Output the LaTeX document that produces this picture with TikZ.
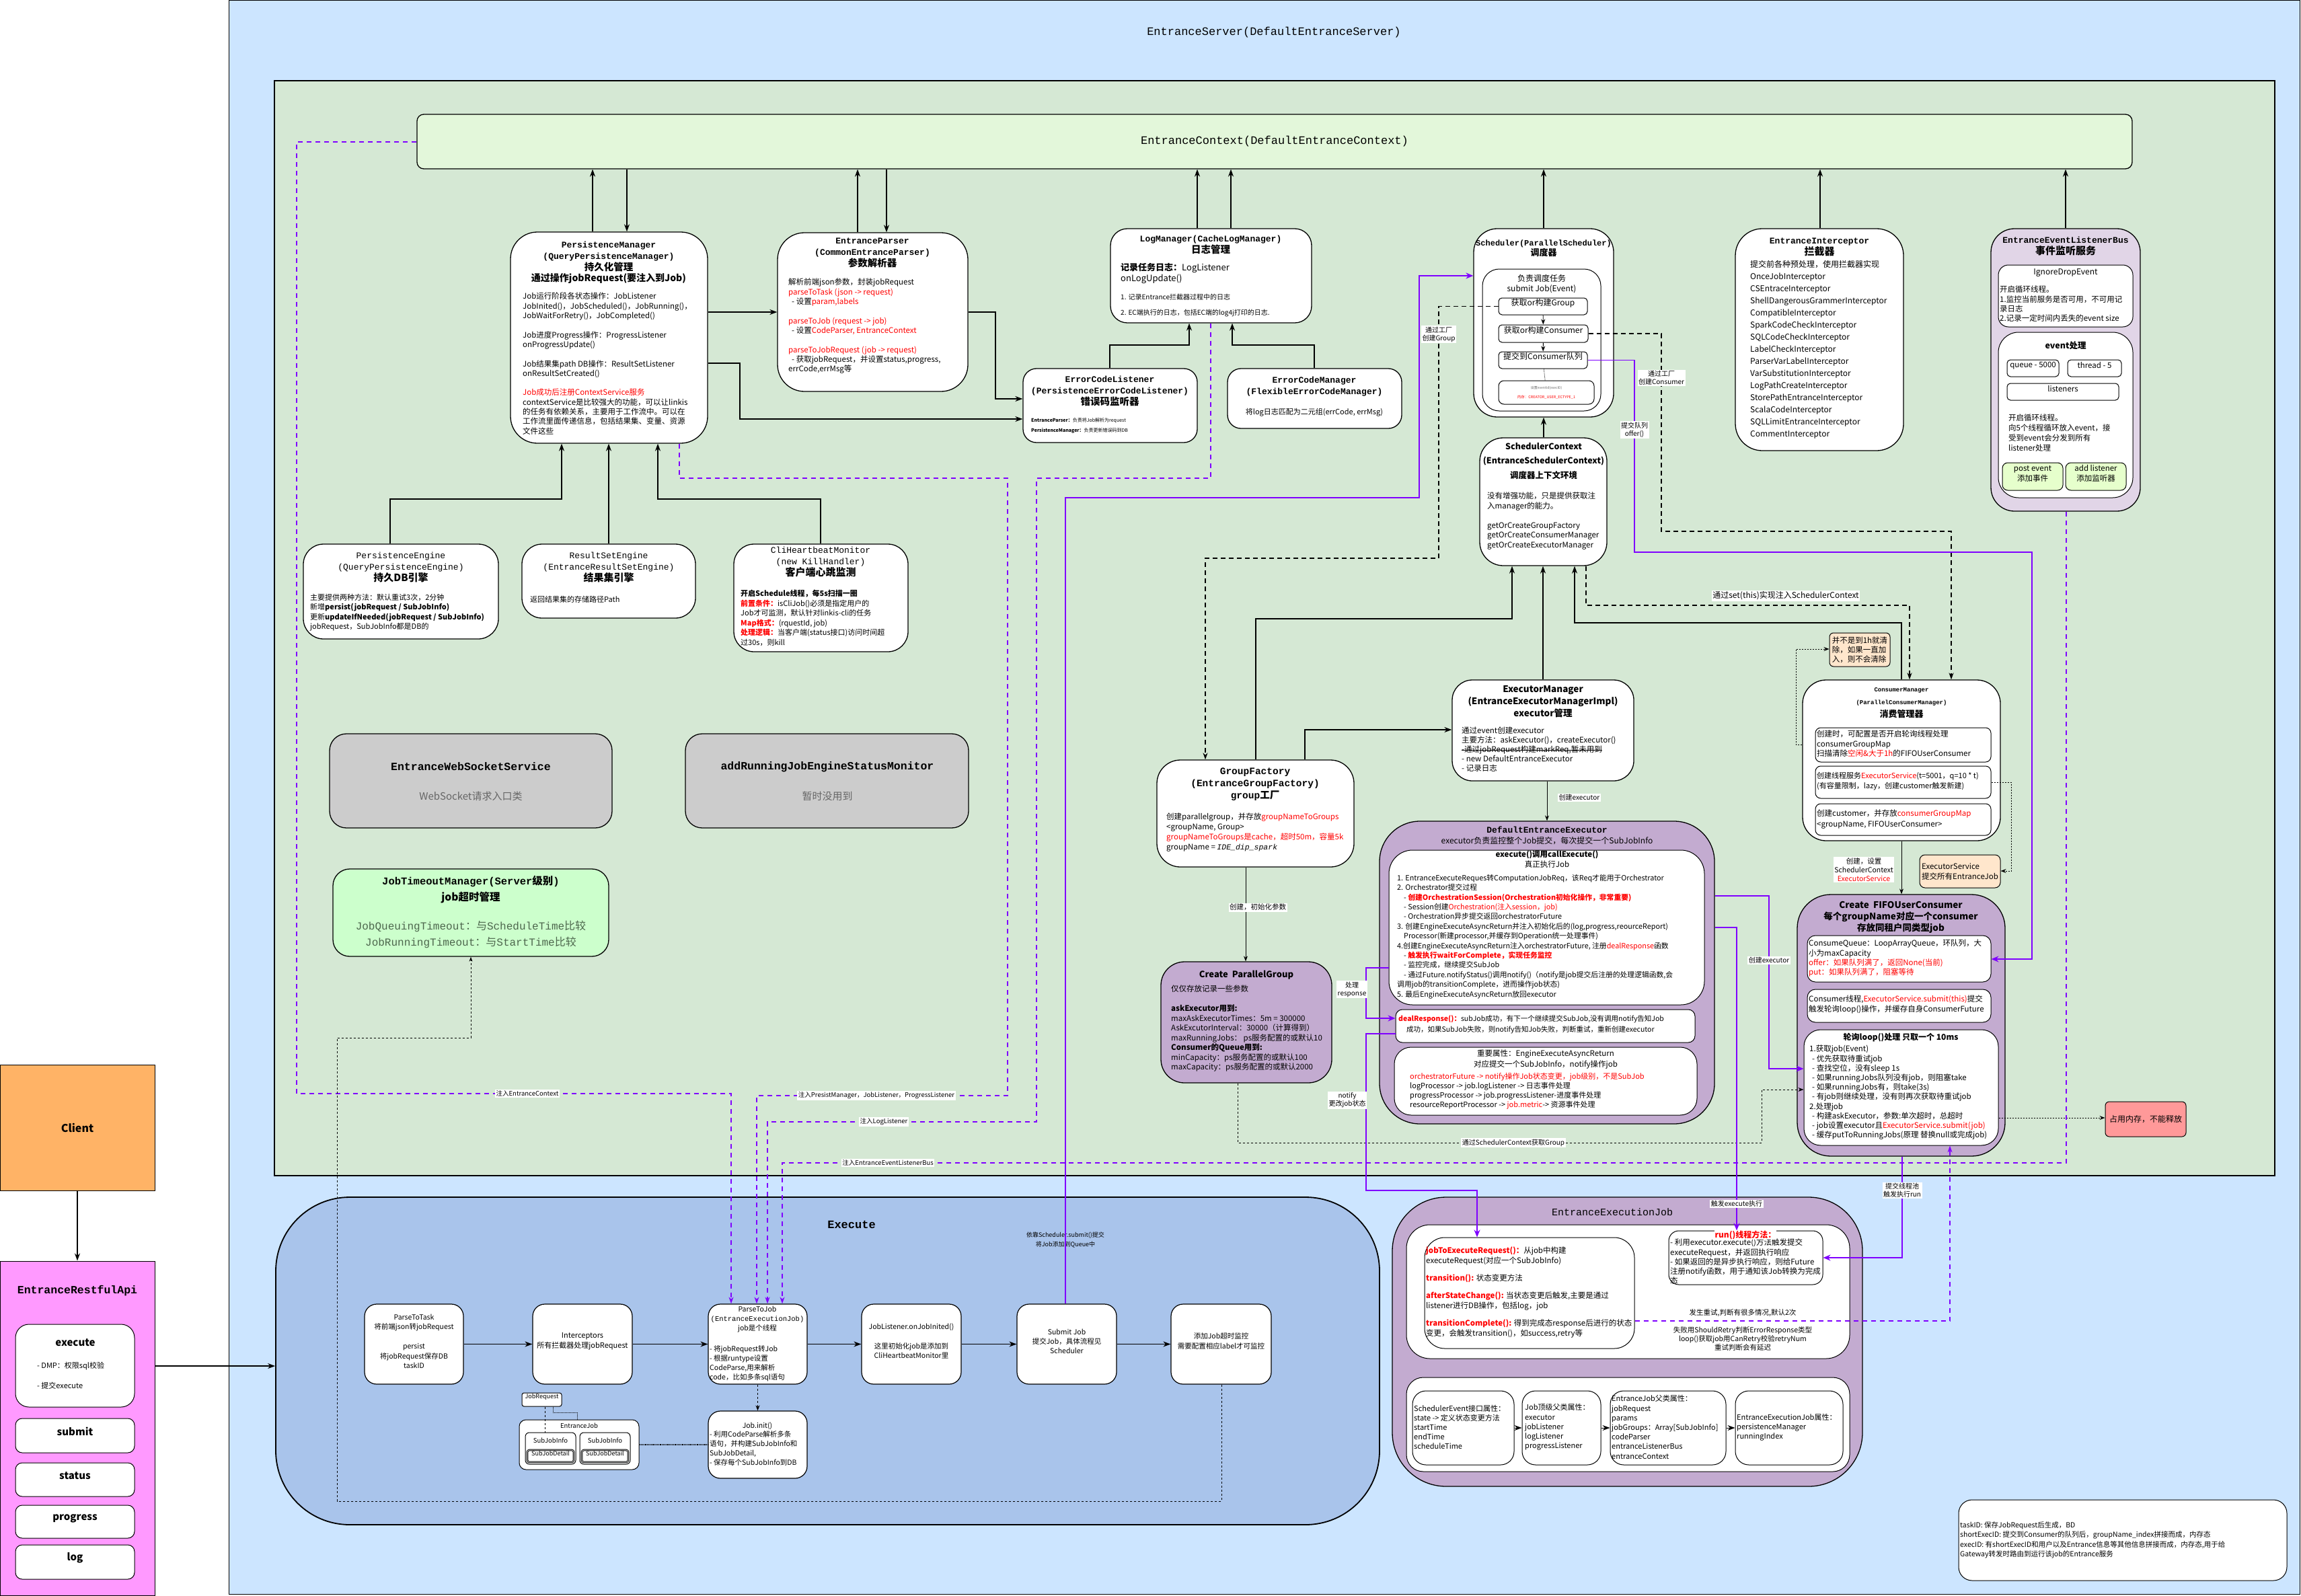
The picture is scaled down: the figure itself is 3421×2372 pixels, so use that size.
\documentclass[tikz,border=0pt]{standalone}
\usepackage{fontspec}
\setmainfont{Noto Sans CJK SC}
\newfontfamily\hd{Liberation Mono}
\usepackage{xcolor}
\definecolor{srvblue}{HTML}{CCE5FF}
\definecolor{ctxgreen}{HTML}{D5E8D4}
\definecolor{barmint}{HTML}{E3F7DA}
\definecolor{btngreen}{HTML}{E6FFCC}
\definecolor{exblue}{HTML}{A9C4EB}
\definecolor{grp}{HTML}{C3ABD0}
\definecolor{busp}{HTML}{E1D5E7}
\definecolor{wsgray}{HTML}{CCCCCC}
\definecolor{jtgreen}{HTML}{CCFFCC}
\definecolor{cliorange}{HTML}{FFB366}
\definecolor{apipink}{HTML}{FF99FF}
\definecolor{noteorange}{HTML}{FFE6CC}
\definecolor{memred}{HTML}{FF9999}
\definecolor{vio}{HTML}{7F00FF}
\definecolor{hot}{HTML}{FF0000}
\definecolor{dimgray}{HTML}{666666}
\definecolor{jtgray}{HTML}{4D664D}
\usepackage{tikz}
\usetikzlibrary{arrows.meta, positioning, fit}
\newcommand{\fsz}[2]{\fontsize{#1}{#2}\selectfont}
\newcommand{\rd}[1]{\textcolor{hot}{#1}}
\newcommand{\rb}[1]{\textcolor{hot}{\bfseries #1}}
\newcommand{\strk}[1]{\setbox0\hbox{#1}\rlap{\raisebox{0.3em}{\rule{\wd0}{0.7pt}}}\box0}

\begin{document}
\begin{tikzpicture}[x=1pt, y=-1pt,
    box/.style={draw, line width=1.3pt, fill=#1, rounded corners=30pt, inner sep=0pt},
    box/.default=white,
    sub/.style={draw, line width=1pt, fill=white, rounded corners=5pt, inner sep=0pt, align=center, font=\fsz{12}{14}},
    stepbox/.style={draw, line width=1.2pt, fill=white, rounded corners=18pt, inner sep=0pt, align=center, font=\fsz{10.5}{14.4}},
    hdr/.style={inner sep=0pt, align=center, font=\hd\bfseries\fsz{13}{16.7}},
    body/.style={inner sep=0pt, align=left, font=\fsz{11.5}{14.3}},
    lbl/.style={fill=white, inner sep=1.5pt, align=center, font=\fsz{10}{12}},
    conn/.style={line width=1.6pt, -{Stealth[length=11pt,width=8pt]}},
    thinarr/.style={line width=0.9pt, -{Stealth[length=8pt,width=6pt]}},
    inject/.style={vio, line width=1.6pt, dash pattern=on 7pt off 6pt, -{Stealth[length=10pt,width=7pt]}},
    vline/.style={vio, line width=1.6pt, -{Stealth[length=11pt,width=9pt]}},
    dline/.style={line width=1.4pt, dash pattern=on 7pt off 5pt, -{Stealth[length=10pt,width=7pt]}},
    dotl/.style={line width=0.9pt, dash pattern=on 2pt off 2pt, -{Stealth[length=8pt,width=6pt]}}
]
\useasboundingbox (0,0) rectangle (3421,2372);

% Server frame
\node[box=srvblue, rounded corners=0pt, line width=1pt, fit={(340,0)(3419,2370)}] (srv) {};
\node[hdr, font=\hd\fsz{17}{20}] (srvt) at (1894,48) {EntranceServer(DefaultEntranceServer)};
\node[box=ctxgreen, rounded corners=0pt, fit={(408,120)(3382,1748)}] (grn) {};
\node[box=barmint, rounded corners=10pt, fit={(620,170)(3170,251)}] (ec) {};
\node[hdr, font=\hd\fsz{17}{20}] (ect) at (ec.center) {EntranceContext(DefaultEntranceContext)};

% Persistence manager
\node[box, rounded corners=40pt, fit={(759,345)(1052,659)}] (pm) {};
\node[hdr, anchor=north] (pmh) at (905,359) {PersistenceManager\\(QueryPersistenceManager)\\{\rmfamily\fsz{14.5}{16.7}持久化管理}\\{\rmfamily\fsz{14}{16.7}通过操作jobRequest(要注入到Job)}};
\node[body, anchor=north west] (pmb) at (777,435) {Job运行阶段各状态操作：JobListener\\
JobInited()，JobScheduled()，JobRunning()，\\
JobWaitForRetry()，JobCompleted()\\[14.3pt]
Job进度Progress操作：ProgressListener\\
onProgressUpdate()\\[14.3pt]
Job结果集path DB操作：ResultSetListener\\
onResultSetCreated()\\[14.3pt]
\rd{Job成功后注册ContextService服务}\\
contextService是比较强大的功能，可以让linkis\\
的任务有依赖关系，主要用于工作流中。可以在\\
工作流里面传递信息，包括结果集、变量、资源\\
文件这些};

% Entrance parser
\node[box, rounded corners=40pt, fit={(1156,346)(1439,582)}] (ep) {};
\node[hdr, anchor=north] (eph) at (1297,354) {EntranceParser\\(CommonEntranceParser)\\{\rmfamily\fsz{14.5}{16.7}参数解析器}};
\node[body, anchor=north west] (epb) at (1172,414) {解析前端json参数，封装jobRequest\\
\rd{parseToTask (json -> request)}\\
\hspace*{5pt}- 设置\rd{param,labels}\\[14.3pt]
\rd{parseToJob (request -> job)}\\
\hspace*{5pt}- 设置\rd{CodeParser, EntranceContext}\\[14.3pt]
\rd{parseToJobRequest (job -> request)}\\
\hspace*{5pt}- 获取jobRequest，并设置status,progress,\\
errCode,errMsg等};

% Log manager and error code
\node[box, rounded corners=25pt, fit={(1651,340)(1950,480)}] (lm) {};
\node[hdr, anchor=north] (lmh) at (1800,350) {LogManager(CacheLogManager)\\{\rmfamily\fsz{14.5}{16.7}日志管理}};
\node[body, anchor=north west, font=\fsz{13}{16}] (lmb) at (1666,391) {{\bfseries 记录任务日志：}LogListener\\onLogUpdate()};
\node[body, anchor=north west, font=\fsz{10}{23}] (lms) at (1666,437) {1. 记录Entrance拦截器过程中的日志\\2. EC端执行的日志，包括EC端的log4j打印的日志.};
\node[box, rounded corners=20pt, fit={(1521,548)(1780,658)}] (ecl) {};
\node[hdr, anchor=north] (eclh) at (1650,559) {ErrorCodeListener\\(PersistenceErrorCodeListener)\\{\rmfamily\fsz{14.5}{16.7}错误码监听器}};
\node[body, anchor=north west, font=\fsz{7}{15}] (eclb) at (1533,621) {{\bfseries EntranceParser：}负责将Job解析为request\\{\bfseries PersistenceManager：}负责更新错误码到DB};
\node[box, rounded corners=20pt, fit={(1825,548)(2084,637)}] (ecm) {};
\node[hdr, anchor=north] (ecmh) at (1954,560) {ErrorCodeManager\\(FlexibleErrorCodeManager)};
\node[body, font=\fsz{11}{13}] (ecmb) at (1954,613) {将log日志匹配为二元组(errCode, errMsg)};

% Scheduler
\node[box, rounded corners=35pt, fit={(2191,340)(2399,620)}] (sch) {};
\node[hdr, anchor=north, font=\hd\bfseries\fsz{12}{15}] (schh) at (2295,357) {Scheduler(ParallelScheduler)\\{\rmfamily\fsz{13}{15}调度器}};
\node[box, line width=1pt, rounded corners=25pt, fit={(2204,400)(2380,611)}] (schin) {};
\node[body, anchor=north, align=center, font=\fsz{12}{15}] (schd) at (2292,408) {负责调度任务\\submit Job(Event)};
\node[sub, fit={(2228,443)(2360,468)}] (schg) {获取or构建Group};
\node[sub, fit={(2228,483)(2361,509)}] (schc) {获取or构建Consumer};
\node[sub, fit={(2228,523)(2360,548)}] (schq) {提交到Consumer队列};
\node[sub, rounded corners=8pt, fit={(2228,566)(2370,601)}] (schm) {};
\node[font=\fsz{5}{6}, text=dimgray, inner sep=0pt] (schm1) at (2299,577) {设置eventId(execID)};
\node[font=\fsz{5.5}{6}, text=hot, inner sep=0pt] (schm2) at (2299,591) {内存：CREATOR\_USER\_ECTYPE\_1};
\draw[thinarr] (schg) -- (schc);
\draw[thinarr] (schc) -- (schq);
\draw[densely dotted, line width=0.8pt] (schq) -- (schm);

% Scheduler context
\node[box, rounded corners=35pt, fit={(2200,651)(2389,841)}] (sctx) {};
\node[inner sep=0pt, align=center, font=\bfseries\fsz{12.5}{21.5}, anchor=north] (sctxh) at (2295,658) {SchedulerContext\\(EntranceSchedulerContext)\\调度器上下文环境};
\node[body, anchor=north west, font=\fsz{11.5}{14.5}] (sctxb) at (2211,732) {没有增强功能，只是提供获取注\\入manager的能力。\\[14.5pt]getOrCreateGroupFactory\\getOrCreateConsumerManager\\getOrCreateExecutorManager};

% Interceptor
\node[box, rounded corners=40pt, fit={(2580,340)(2830,670)}] (itc) {};
\node[hdr, anchor=north] (itch) at (2705,354) {EntranceInterceptor\\{\rmfamily\fsz{15}{16.7}拦截器}};
\node[body, anchor=north west, font=\fsz{12}{18}] (itcb) at (2602,387) {提交前各种预处理，使用拦截器实现\\
OnceJobInterceptor\\CSEntraceInterceptor\\ShellDangerousGrammerInterceptor\\CompatibleInterceptor\\
SparkCodeCheckInterceptor\\SQLCodeCheckInterceptor\\LabelCheckInterceptor\\ParserVarLabelInterceptor\\
VarSubstitutionInterceptor\\LogPathCreateInterceptor\\StorePathEntranceInterceptor\\ScalaCodeInterceptor\\
SQLLimitEntranceInterceptor\\CommentInterceptor};

% Listener bus
\node[box=busp, rounded corners=35pt, fit={(2960,340)(3182,760)}] (bus) {};
\node[hdr, anchor=north] (bush) at (3071,352) {EntranceEventListenerBus\\{\rmfamily\fsz{15}{16.7}事件监听服务}};
\node[box, line width=1pt, rounded corners=15pt, fit={(2971,394)(3171,486)}] (busi) {};
\node[font=\fsz{12}{14}, inner sep=0pt] (busit) at (3071,406) {IgnoreDropEvent};
\node[body, anchor=north west] (busib) at (2973,425) {开启循环线程。\\1.监控当前服务是否可用，不可用记\\录日志\\2.记录一定时间内丢失的event size};
\node[box, line width=1pt, rounded corners=30pt, fit={(2971,494)(3171,740)}] (buse) {};
\node[font=\bfseries\fsz{12.5}{14}, inner sep=0pt] (buset) at (3071,514) {event处理};
\node[sub, font=\fsz{11.5}{14}, fit={(2984,535)(3061,560)}] (bq) {queue - 5000};
\node[sub, font=\fsz{11.5}{14}, fit={(3074,535)(3154,560)}] (bt) {thread - 5};
\node[sub, font=\fsz{11.5}{14}, fit={(2984,570)(3150,595)}] (bl) {listeners};
\node[body, anchor=north west, font=\fsz{11.5}{14.8}] (buseb) at (2986,616) {开启循环线程。\\向5个线程循环放入event，接\\受到event会分发到所有\\listener处理};
\node[sub, fill=btngreen, rounded corners=8pt, font=\fsz{11.5}{15}, fit={(2977,688)(3067,729)}] (bp) {post event\\添加事件};
\node[sub, fill=btngreen, rounded corners=8pt, font=\fsz{11.5}{15}, fit={(3071,688)(3161,729)}] (ba) {add listener\\添加监听器};

% Engines
\node[box, rounded corners=30pt, fit={(451,809)(741,950)}] (pe) {};
\node[hdr, anchor=north, font=\hd\fsz{13}{17}] (peh) at (596,821) {PersistenceEngine\\(QueryPersistenceEngine)\\{\rmfamily\bfseries\fsz{15}{17}持久DB引擎}};
\node[body, anchor=north west, font=\fsz{11}{14.3}] (peb) at (461,883) {主要提供两种方法：默认重试3次，2分钟\\新增{\bfseries persist(jobRequest / SubJobInfo)}\\更新{\bfseries updateIfNeeded(jobRequest / SubJobInfo)}\\jobRequest，SubJobInfo都是DB的};
\node[box, rounded corners=30pt, fit={(776,809)(1034,919)}] (rse) {};
\node[hdr, anchor=north, font=\hd\fsz{13}{17}] (rseh) at (905,821) {ResultSetEngine\\(EntranceResultSetEngine)\\{\rmfamily\bfseries\fsz{15}{17}结果集引擎}};
\node[body, anchor=north west, font=\fsz{11}{14}] (rseb) at (788,886) {返回结果集的存储路径Path};
\node[box, rounded corners=30pt, fit={(1091,809)(1350,969)}] (cli) {};
\node[hdr, anchor=north, font=\hd\fsz{13}{17}] (clih) at (1220,813) {CliHeartbeatMonitor\\(new KillHandler)\\{\rmfamily\bfseries\fsz{15}{17}客户端心跳监测}};
\node[body, anchor=north west, font=\fsz{11}{14.5}] (clib) at (1101,877) {{\bfseries 开启Schedule线程，每5s扫描一圈}\\
\rb{前置条件：}isCliJob()必须是指定用户的\\
Job才可监测，默认针对linkis-cli的任务\\
\rb{Map格式：}(rquestId, job)\\
\rb{处理逻辑：}当客户端(status接口)访问时间超\\
过30s，则kill};

% Other server parts
\node[box=wsgray, rounded corners=25pt, fit={(490,1091)(910,1231)}] (ws) {};
\node[hdr, font=\hd\bfseries\fsz{16.5}{20}] (wst) at (700,1140) {EntranceWebSocketService};
\node[font=\fsz{15}{18}, text=dimgray, inner sep=0pt] (wss) at (700,1184) {WebSocket请求入口类};
\node[box=wsgray, rounded corners=25pt, fit={(1019,1091)(1440,1231)}] (ar) {};
\node[hdr, font=\hd\bfseries\fsz{16.5}{20}] (art) at (1230,1140) {addRunningJobEngineStatusMonitor};
\node[font=\fsz{15}{18}, text=dimgray, inner sep=0pt] (ars) at (1230,1184) {暂时没用到};
\node[box=jtgreen, rounded corners=25pt, fit={(495,1292)(905,1422)}] (jt) {};
\node[hdr, anchor=north, font=\hd\bfseries\fsz{15.5}{24}] (jth) at (700,1302) {JobTimeoutManager(Server{\rmfamily 级别})\\{\rmfamily job超时管理}};
\node[hdr, anchor=north, font=\hd\fsz{16}{24}, text=jtgray] (jtb) at (700,1369) {JobQueuingTimeout{\rmfamily ：与}ScheduleTime{\rmfamily 比较}\\JobRunningTimeout{\rmfamily ：与}StartTime{\rmfamily 比较}};

% Executor manager and consumer manager
\node[box, rounded corners=30pt, fit={(2159,1011)(2429,1161)}] (em) {};
\node[inner sep=0pt, align=center, font=\bfseries\fsz{13.5}{18}, anchor=north] (emh) at (2294,1019) {ExecutorManager\\(EntranceExecutorManagerImpl)\\executor管理};
\node[body, anchor=north west, font=\fsz{11.5}{14}] (emb) at (2173,1081) {通过event创建executor\\主要方法：askExecutor()，createExecutor()\\\strk{-通过jobRequest构建markReq,暂未用到}\\- new DefaultEntranceExecutor\\- 记录日志};
\node[box, rounded corners=35pt, fit={(2680,1011)(2974,1250)}] (cm) {};
\node[hdr, anchor=north, font=\hd\bfseries\fsz{9}{19}] (cmh) at (2827,1022) {ConsumerManager\\(ParallelConsumerManager)\\{\rmfamily\fsz{13}{19}消费管理器}};
\node[box, line width=1pt, rounded corners=8pt, fit={(2699,1082)(2960,1133)}] (cm1) {};
\node[body, anchor=north west, font=\fsz{11.5}{14.5}] (cm1t) at (2701,1086) {创建时，可配置是否开启轮询线程处理\\consumerGroupMap\\扫描清除\rd{空闲\&大于1h}的FIFOUserConsumer};
\node[box, line width=1pt, rounded corners=8pt, fit={(2699,1139)(2960,1187)}] (cm2) {};
\node[body, anchor=north west, font=\fsz{11}{15.5}] (cm2t) at (2701,1148) {创建线程服务\rd{ExecutorService}(t=5001，q=10 * t)\\(有容量限制，lazy，创建customer触发新建)};
\node[box, line width=1pt, rounded corners=8pt, fit={(2699,1195)(2960,1242)}] (cm3) {};
\node[body, anchor=north west, font=\fsz{11.5}{15.5}] (cm3t) at (2701,1204) {创建customer，并存放\rd{consumerGroupMap}\\<groupName, FIFOUserConsumer>};
\node[box=noteorange, line width=1pt, rounded corners=6pt, fit={(2720,941)(2810,991)}] (cmn) {};
\node[body, font=\fsz{11.5}{14.2}] (cmnt) at (cmn.center) {并不是到1h就清\\除，如果一直加\\入，则不会清除};

% Group factory
\node[box, rounded corners=35pt, fit={(1720,1130)(2013,1289)}] (gf) {};
\node[hdr, anchor=north, font=\hd\bfseries\fsz{14.5}{18}] (gfh) at (1866,1142) {GroupFactory\\(EntranceGroupFactory)\\group{\rmfamily 工厂}};
\node[body, anchor=north west, font=\fsz{11.5}{14.8}] (gfb) at (1734,1209) {创建parallelgroup，并存放\rd{groupNameToGroups}\\<groupName, Group>\\\rd{groupNameToGroups是cache，超时50m，容量5k}\\groupName = {\hd\itshape IDE\_dip\_spark}};
\node[box=grp, rounded corners=35pt, fit={(1726,1430)(1980,1610)}] (pg) {};
\node[font=\bfseries\fsz{13}{16}, inner sep=0pt] (pgh) at (1853,1450) {Create\ \ ParallelGroup};
\node[body, anchor=north west, font=\fsz{11.5}{14.5}] (pgb) at (1741,1465) {仅仅存放记录一些参数\\[14.5pt]
{\bfseries askExecutor用到:}\\
maxAskExecutorTimes：5m = 300000\\
AskExcutorInterval：30000（计算得到）\\
maxRunningJobs： ps服务配置的或默认10\\
{\bfseries Consumer的Queue用到:}\\
minCapacity：ps服务配置的或默认100\\
maxCapacity：ps服务配置的或默认2000};

% Default entrance executor
\node[box=grp, rounded corners=60pt, fit={(2051,1221)(2549,1671)}] (dee) {};
\node[hdr, anchor=north, font=\hd\bfseries\fsz{13}{16}] (deeh) at (2300,1229) {DefaultEntranceExecutor\\{\rmfamily\mdseries\fsz{12}{16}executor负责监控整个Job提交，每次提交一个SubJobInfo}};
\node[box, line width=1pt, rounded corners=35pt, fit={(2065,1264)(2534,1494)}] (deex) {};
\node[inner sep=0pt, align=center, font=\fsz{11.5}{15}, anchor=north] (deext) at (2300,1265) {{\bfseries execute()调用callExecute()}\\真正执行Job};
\node[body, anchor=north west, font=\fsz{10.8}{14.4}] (deexb) at (2077,1300) {1. EntranceExecuteReques转ComputationJobReq，该Req才能用于Orchestrator\\
2. Orchestrator提交过程\\
\hspace*{10pt}- \rb{创建OrchestrationSession(Orchestration初始化操作，非常重要)}\\
\hspace*{10pt}- Session创建\rd{Orchestration(注入session，job)}\\
\hspace*{10pt}- Orchestration异步提交返回orchestratorFuture\\
3. 创建EngineExecuteAsyncReturn并注入初始化后的(log,progress,reourceReport)\\
\hspace*{10pt}Processor(新建processor,并缓存到Operation统一处理事件)\\
4.创建EngineExecuteAsyncReturn注入orchestratorFuture, 注册\rd{dealResponse}函数\\
\hspace*{10pt}- \rb{触发执行waitForComplete，实现任务监控}\\
\hspace*{10pt}- 监控完成，继续提交SubJob\\
\hspace*{10pt}- 通过Future.notifyStatus()调用notify()（notify是job提交后注册的处理逻辑函数,会\\
调用job的transitionComplete，进而操作job状态)\\
5. 最后EngineExecuteAsyncReturn放回executor};
\node[box, line width=1pt, rounded corners=10pt, fit={(2075,1501)(2520,1550)}] (deed) {};
\node[body, anchor=north west, font=\fsz{10.5}{16}] (deedt) at (2079,1509) {\rb{dealResponse()：}subJob成功，有下一个继续提交SubJob,没有调用notify告知Job\\\hspace*{12pt}成功，如果SubJob失败，则notify告知Job失败，判断重试，重新创建executor};
\node[box, line width=1pt, rounded corners=25pt, fit={(2073,1557)(2523,1658)}] (deea) {};
\node[inner sep=0pt, align=center, font=\fsz{11.5}{16}, anchor=north] (deeat) at (2298,1561) {重要属性：EngineExecuteAsyncReturn\\对应提交一个SubJobInfo，notify操作job};
\node[body, anchor=north west, font=\fsz{11}{14}] (deeab) at (2096,1595) {\rd{orchestratorFuture -> notify操作Job状态变更，job级别，不是SubJob}\\
logProcessor -> job.logListener -> 日志事件处理\\
progressProcessor -> job.progressListener-进度事件处理\\
resourceReportProcessor -> \rd{job.metric}-> 资源事件处理};

% FIFO consumer
\node[box=noteorange, line width=1pt, rounded corners=8pt, fit={(2854,1271)(2974,1320)}] (esn) {};
\node[body, font=\fsz{11.5}{15}] (esnt) at (esn.center) {ExecutorService\\提交所有EntranceJob};
\node[box=grp, rounded corners=50pt, fit={(2672,1330)(2981,1719)}] (fifo) {};
\node[inner sep=0pt, align=center, font=\bfseries\fsz{13.5}{17}, anchor=north] (fifoh) at (2826,1340) {Create\ \ FIFOUserConsumer\\每个groupName对应一个consumer\\存放同租户同类型job};
\node[box, line width=1pt, rounded corners=12pt, fit={(2687,1391)(2960,1460)}] (fq) {};
\node[body, anchor=north west] (fqt) at (2689,1397) {ConsumeQueue：LoopArrayQueue，环队列，大\\小为maxCapacity\\\rd{offer：如果队列满了，返回None(当前)}\\\rd{put：如果队列满了，阻塞等待}};
\node[box, line width=1pt, rounded corners=12pt, fit={(2687,1471)(2960,1520)}] (ft) {};
\node[body, anchor=north west, font=\fsz{11.5}{15}] (ftt) at (2689,1480) {Consumer线程,\rd{ExecutorService.submit(this)}提交\\触发轮询loop()操作，并缓存自身ConsumerFuture};
\node[box, line width=1pt, rounded corners=25pt, fit={(2682,1531)(2971,1703)}] (fl) {};
\node[font=\bfseries\fsz{12}{14}, inner sep=0pt] (flh) at (2826,1543) {轮询loop()处理 只取一个 10ms};
\node[body, anchor=north west, font=\fsz{11.5}{14.2}] (flb) at (2690,1554) {1.获取job(Event)\\
\hspace*{4pt}- 优先获取待重试job\\
\hspace*{4pt}- 查找空位，没有sleep 1s\\
\hspace*{4pt}- 如果runningJobs队列没有job，则阻塞take\\
\hspace*{4pt}- 如果runningJobs有，则take(3s)\\
\hspace*{4pt}- 有job则继续处理，没有则再次获取待重试job\\
2.处理job\\
\hspace*{4pt}- 构建askExecutor，参数:单次超时，总超时\\
\hspace*{4pt}- job设置executor且\rd{ExecutorService.submit(job)}\\
\hspace*{4pt}- 缓存putToRunningJobs(原理 替换null或完成job)};
\node[box=memred, line width=1pt, rounded corners=6pt, fit={(3130,1638)(3250,1690)}] (mem) {};
\node[font=\fsz{12}{14}, inner sep=0pt] (memt) at (3190,1664) {占用内存，不能释放};

% Execute flow
\node[box=exblue, rounded corners=110pt, line width=1.8pt, fit={(410,1780)(2051,2267)}] (ex) {};
\node[hdr, font=\hd\bfseries\fsz{17}{20}] (ext) at (1266,1821) {Execute};
\node[stepbox, fit={(542,1939)(689,2058)}] (ptt) {ParseToTask\\将前端json转jobRequest\\[14.4pt]persist\\将jobRequest保存DB\\taskID};
\node[stepbox, font=\fsz{11}{14.4}, fit={(792,1939)(940,2058)}] (itr) {Interceptors\\所有拦截器处理jobRequest};
\node[stepbox, fit={(1053,1939)(1200,2058)}] (ptj) {};
\node[inner sep=0pt, align=center, font=\fsz{10.5}{14}, anchor=north] (ptjh) at (1126,1942) {ParseToJob\\{\hd\fsz{10.5}{14}(EntranceExecutionJob)}\\job是个线程};
\node[body, anchor=north west, font=\fsz{10.5}{14.3}] (ptjb) at (1055,2000) {- 将jobRequest转Job\\- 根据runtype设置\\CodeParse,用来解析\\code，比如多条sql语句};
\node[stepbox, fit={(1281,1939)(1429,2058)}] (jli) {JobListener.onJobInited()\\[14pt]这里初始化job是添加到\\CliHeartbeatMonitor里};
\node[stepbox, fit={(1512,1939)(1660,2058)}] (sj) {Submit Job\\提交Job，具体流程见\\Scheduler};
\node[stepbox, fit={(1741,1939)(1890,2058)}] (tm) {添加Job超时监控\\需要配置相应label才可监控};
\node[sub, rounded corners=3pt, font=\fsz{9}{10}, fit={(776,2071)(835,2091)}] (jr) {JobRequest};
\node[box, line width=1pt, rounded corners=10pt, fit={(772,2111)(950,2185)}] (ej) {};
\node[font=\fsz{9.5}{11}, inner sep=0pt] (ejt) at (861,2120) {EntranceJob};
\node[sub, rounded corners=6pt, fit={(781,2130)(856,2177)}] (si1) {};
\node[font=\fsz{9.5}{11}, inner sep=0pt] (si1t) at (818.5,2142) {SubJobInfo};
\node[sub, double, rounded corners=3pt, font=\fsz{9}{10}, fit={(784,2156)(853,2174)}] (sd1) {SubJobDetail};
\node[sub, rounded corners=6pt, fit={(862,2130)(937,2177)}] (si2) {};
\node[font=\fsz{9.5}{11}, inner sep=0pt] (si2t) at (899.5,2142) {SubJobInfo};
\node[sub, double, rounded corners=3pt, font=\fsz{9}{10}, fit={(865,2156)(934,2174)}] (sd2) {SubJobDetail};
\node[stepbox, fit={(1053,2098)(1200,2198)}] (ji) {};
\node[inner sep=0pt, font=\fsz{10.5}{14}] (jih) at (1126,2120) {Job.init()};
\node[body, anchor=north west, font=\fsz{10.5}{14.3}] (jib) at (1055,2127) {- 利用CodeParse解析多条\\语句，并构建SubJobInfo和\\SubJobDetail,\\- 保存每个SubJobInfo到DB};
\node[inner sep=0pt, align=center, font=\fsz{9}{14}] (sjl) at (1584,1843) {依靠Scheduler.submit()提交\\将Job添加到Queue中};

% Execution job
\node[box=grp, rounded corners=80pt, fit={(2070,1780)(2769,2210)}] (eej) {};
\node[hdr, font=\hd\fsz{15}{18}] (eejt) at (2397,1802) {EntranceExecutionJob};
\node[box, line width=1pt, rounded corners=35pt, fit={(2091,1821)(2750,2020)}] (eeu) {};
\node[box, line width=1pt, rounded corners=30pt, fit={(2118,1840)(2430,2005)}] (eel) {};
\node[body, anchor=north west, font=\fsz{11.5}{15}] (eelt) at (2120,1854) {\rb{jobToExecuteRequest()：}从job中构建\\
executeRequest(对应一个SubJobInfo)\\[11pt]
\rb{transition():} 状态变更方法\\[11pt]
\rb{afterStateChange():} 当状态变更后触发,主要是通过\\
listener进行DB操作，包括log，job\\[11pt]
\rb{transitionComplete():} 得到完成态response后进行的状态\\
变更，会触发transition()，如success,retry等};
\node[box, line width=1pt, rounded corners=15pt, fit={(2481,1830)(2710,1910)}] (eer) {};
\node[body, anchor=north west, font=\fsz{11.5}{14.2}] (eerb) at (2483,1842) {- 利用executor.execute()方法触发提交\\executeRequest，并返回执行响应\\- 如果返回的是异步执行响应，则给Future\\注册notify函数，用于通知该Job转换为完成\\态};
\node[font=\fsz{10.5}{13}, inner sep=0pt] (eerty) at (2591,1952) {发生重试,判断有很多情况,默认2次};
\node[align=center, font=\fsz{10.5}{13}, inner sep=0pt] (eerf) at (2591,1991) {失败用ShouldRetry判断ErrorResponse类型\\loop()获取job用CanRetry校验retryNum\\重试判断会有延迟};
\node[box, line width=1pt, rounded corners=25pt, fit={(2091,2048)(2750,2188)}] (eeb) {};
\node[box, line width=1pt, rounded corners=20pt, fit={(2100,2068)(2251,2178)}] (eb1) {};
\node[body, anchor=west, font=\fsz{11}{14.2}] (eb1t) at (2102,2122) {SchedulerEvent接口属性：\\state -> 定义状态变更方法\\startTime\\endTime\\scheduleTime};
\node[box, line width=1pt, rounded corners=20pt, fit={(2263,2068)(2380,2178)}] (eb2) {};
\node[body, anchor=west, font=\fsz{11}{14.2}] (eb2t) at (2267,2122) {Job顶级父类属性：\\executor\\jobListener\\logListener\\progressListener};
\node[box, line width=1pt, rounded corners=20pt, fit={(2394,2068)(2566,2178)}] (eb3) {};
\node[body, anchor=west, font=\fsz{11}{14.2}] (eb3t) at (2396,2122) {EntranceJob父类属性：\\jobRequest\\params\\jobGroups：Array[SubJobInfo]\\codeParser\\entranceListenerBus\\entranceContext};
\node[box, line width=1pt, rounded corners=20pt, fit={(2580,2068)(2740,2178)}] (eb4) {};
\node[body, anchor=west, font=\fsz{11}{14.2}] (eb4t) at (2582,2122) {EntranceExecutionJob属性：\\persistenceManager\\runningIndex};

% Client and api
\node[draw, line width=1pt, fill=cliorange, inner sep=0pt, fit={(0,1583)(230,1770)}] (client) {};
\node[font=\bfseries\fsz{16}{18}] (clientt) at (client.center) {Client};
\node[draw, line width=1pt, fill=apipink, inner sep=0pt, fit={(0,1875)(230,2372)}] (api) {};
\node[hdr, font=\hd\bfseries\fsz{16.5}{20}] (apit) at (115,1919) {EntranceRestfulApi};
\node[box, line width=1pt, rounded corners=20pt, fit={(23,1969)(200,2092)}] (ax) {};
\node[font=\bfseries\fsz{15}{18}, inner sep=0pt] (axt) at (112,1996) {execute};
\node[body, anchor=north west, font=\fsz{11}{30}] (axb) at (55,2025) {- DMP：权限sql校验\\- 提交execute};
\node[box, line width=1pt, rounded corners=10pt, font=\bfseries\fsz{15}{18}, fit={(23,2109)(200,2160)}] (as) {submit};
\node[box, line width=1pt, rounded corners=10pt, font=\bfseries\fsz{15}{18}, fit={(23,2175)(200,2225)}] (ast) {status};
\node[box, line width=1pt, rounded corners=10pt, font=\bfseries\fsz{15}{18}, fit={(23,2238)(200,2287)}] (ap) {progress};
\node[box, line width=1pt, rounded corners=10pt, font=\bfseries\fsz{15}{18}, fit={(23,2297)(200,2348)}] (al) {log};

% Id note
\node[box, line width=1pt, rounded corners=20pt, fit={(2912,2230)(3400,2350)}] (note) {};
\node[body, anchor=west, font=\fsz{10.5}{14.4}] (notet) at (2914,2290) {taskID: 保存JobRequest后生成，BD\\shortExecID: 提交到Consumer的队列后，groupName\_index拼接而成，内存态\\execID: 有shortExecID和用户以及Entrance信息等其他信息拼接而成，内存态,用于给\\Gateway转发时路由到运行该job的Entrance服务};

% Context links
\draw[conn] (881,0 |- pm.north) -- (881,0 |- ec.south);
\draw[conn] (932,0 |- ec.south) -- (932,0 |- pm.north);
\draw[conn] (1275,0 |- ep.north) -- (1275,0 |- ec.south);
\draw[conn] (1318,0 |- ec.south) -- (1318,0 |- ep.north);
\draw[conn] (1780,0 |- lm.north) -- (1780,0 |- ec.south);
\draw[conn] (1830,0 |- lm.north) -- (1830,0 |- ec.south);
\draw[conn] (2295,0 |- sch.north) -- (2295,0 |- ec.south);
\draw[conn] (2706,0 |- itc.north) -- (2706,0 |- ec.south);
\draw[conn] (3071,0 |- bus.north) -- (3071,0 |- ec.south);

% Manager links
\draw[conn] (pm.east |- 0,464) -- (ep.west |- 0,464);
\draw[conn] (ep.east |- 0,464) -- (1480,464) -- (1480,593) -- (ecl.west |- 0,593);
\draw[conn] (pm.east |- 0,540) -- (1100,540) -- (1100,623) -- (ecl.west |- 0,623);
\draw[conn] (1650,0 |- ecl.north) -- (1650,513) -- (1768,513) -- (1768,0 |- lm.south);
\draw[conn] (1954,0 |- ecm.north) -- (1954,513) -- (1832,513) -- (1832,0 |- lm.south);
\draw[conn] (580,0 |- pe.north) -- (580,742) -- (835,742) -- (835,0 |- pm.south);
\draw[conn] (905,0 |- rse.north) -- (905,0 |- pm.south);
\draw[conn] (1220,0 |- cli.north) -- (1220,742) -- (978,742) -- (978,0 |- pm.south);

% Scheduler links
\draw[conn] (2295,0 |- sctx.north) -- (2295,0 |- sch.south);
\draw[conn] (1867,0 |- gf.north) -- (1867,920) -- (2248,920) -- (2248,0 |- sctx.south);
\draw[conn] (2294,0 |- em.north) -- (2294,0 |- sctx.south);
\draw[conn] (2827,0 |- cm.north) -- (2827,926) -- (2341,926) -- (2341,0 |- sctx.south);
\draw[conn] (1940,0 |- gf.north) -- (1940,1085) -- (em.west |- 0,1085);
\draw[dline] (schg.west) -- (2139,0 |- schg.west) -- (2139,830) -- (1792,830) -- (1792,0 |- gf.north);
\draw[dline] (schc.east) -- (2470,0 |- schc.east) -- (2470,790) -- (2901,790) -- (2901,0 |- cm.north);
\draw[dline] (2358,0 |- sctx.south) -- (2358,900) -- (2839,900) -- (2839,0 |- cm.north);
\draw[vline] (schq.east) -- (2430,0 |- schq.east) -- (2430,821) -- (3021,821) -- (3021,1426) -- (fq.east |- 0,1426);
\draw[thinarr] (2300,0 |- em.south) -- (2300,0 |- dee.north);
\draw[thinarr] (1852,0 |- gf.south) -- (1852,0 |- pg.north);
\draw[thinarr] (2827,0 |- cm.south) -- (2827,0 |- fifo.north);
\draw[dotl] (cm.west |- 0,1107) -- (2670,1107) -- (2670,965) -- (cmn.west |- 0,965);
\draw[dotl] (cm2.east |- 0,1163) -- (2990,1163) -- (2990,1295) -- (esn.east |- 0,1295);
\draw[dashed, thinarr] (1840,0 |- pg.south) -- (1840,1699) -- (2619,1699) -- (2619,1620) -- (fl.west |- 0,1620);
\draw[dotl] (fl.east |- 0,1662) -- (mem.west |- 0,1662);

% Executor links
\draw[vline] (deex.west |- 0,1439) -- (2031,1439) -- (2031,1514) -- (deed.west |- 0,1514);
\draw[vline] (deed.west |- 0,1537) -- (2031,1537) -- (2031,1770) -- (2196,1770) -- (2196,0 |- eel.north);
\draw[vline] (dee.east |- 0,1332) -- (2630,1332) -- (2630,1589) -- (fl.west |- 0,1589);
\draw[vline] (dee.east |- 0,1379) -- (2582,1379) -- (2582,0 |- eer.north);
\draw[vline] (2828,0 |- fifo.south) -- (2828,1870) -- (eer.east |- 0,1870);
\draw[inject] (eel.east |- 0,1964) -- (2899,1964) -- (2899,0 |- fl.south);
\draw[vline] (1584,0 |- sj.north) -- (1584,740) -- (2110,740) -- (2110,410) -- (sch.west |- 0,410);

% Injections
\draw[inject] (ec.west |- 0,211) -- (441,211) -- (441,1626) -- (1087,1626) -- (1087,0 |- ptj.north);
\draw[inject] (1010,0 |- pm.south) -- (1010,711) -- (1498,711) -- (1498,1629) -- (1125,1629) -- (1125,0 |- ptj.north);
\draw[inject] (1800,0 |- lm.south) -- (1800,711) -- (1541,711) -- (1541,1668) -- (1141,1668) -- (1141,0 |- ptj.north);
\draw[inject] (3072,0 |- bus.south) -- (3072,1729) -- (1163,1729) -- (1163,0 |- ptj.north);

% Execute flow links
\draw[conn, line width=1.2pt] (ptt) -- (itr);
\draw[conn, line width=1.2pt] (itr) -- (ptj);
\draw[conn, line width=1.2pt] (ptj) -- (jli);
\draw[conn, line width=1.2pt] (jli) -- (sj);
\draw[conn, line width=1.2pt] (sj) -- (tm);
\draw[dashed, thinarr] (ptj) -- (ji);
\draw[densely dotted, line width=1.2pt] (ej.east |- 0,2148) -- (ji.west |- 0,2148);
\draw[dashed, line width=0.8pt] (810,0 |- jr.south) -- (810,0 |- si1.north);
\draw[densely dotted, line width=1pt] (822,0 |- jr.south) -- (822,2100) -- (858,2100) -- (858,0 |- ej.north);
\draw[dashed, line width=0.8pt, -{Stealth[length=7pt,width=5pt]}] (1816,0 |- tm.south) -- (1816,2232) -- (501,2232) -- (501,1543) -- (700,1543) -- (jt.south);
\draw[conn, line width=1pt] (eb1) -- (eb2);
\draw[conn, line width=1pt] (eb2) -- (eb3);
\draw[conn, line width=1pt] (eb3) -- (eb4);
\draw[conn] (client) -- (api);
\draw[conn, line width=1.2pt] (api.east |- 0,2031) -- (ex.west |- 0,2031);

% Labels
\node[lbl] (l1) at (2139,497) {通过工厂\\创建Group};
\node[lbl] (l2) at (2470,562) {通过工厂\\创建Consumer};
\node[lbl] (l3) at (2430,639) {提交队列\\offer()};
\node[lbl, font=\fsz{12}{14}] (l4) at (2655,886) {通过set(this)实现注入SchedulerContext};
\node[lbl, anchor=west] (l5) at (2316,1186) {创建executor};
\node[lbl, font=\fsz{10.5}{12}] (l6) at (1870,1349) {创建，初始化参数};
\node[lbl, font=\fsz{10.5}{13}] (l7) at (2771,1293) {创建，设置\\SchedulerContext\\\textcolor{hot}{ExecutorService}};
\node[lbl] (l8) at (2010,1471) {处理\\response};
\node[lbl] (l9) at (2003,1636) {notify\\更改job状态};
\node[lbl] (l10) at (2630,1428) {创建executor};
\node[lbl] (l11) at (2582,1790) {触发execute执行};
\node[lbl] (l12) at (2828,1770) {提交线程池\\触发执行run};
\node[lbl] (l13) at (2250,1699) {通过SchedulerContext获取Group};
\node[lbl, font=\fsz{9.5}{11}] (l14) at (784,1626) {注入EntranceContext};
\node[lbl, font=\fsz{9.5}{11}] (l15) at (1303,1629) {注入PresistManager，JobListener，ProgressListener};
\node[lbl, font=\fsz{9.5}{11}] (l16) at (1314,1668) {注入LogListener};
\node[lbl, font=\fsz{9.5}{11}] (l17) at (1320,1729) {注入EntranceEventListenerBus};
\node[font=\bfseries\fsz{12}{14}, text=hot, fill=white, inner sep=1pt] (eert) at (2595,1836) {run()线程方法：};
\end{tikzpicture}
\end{document}
